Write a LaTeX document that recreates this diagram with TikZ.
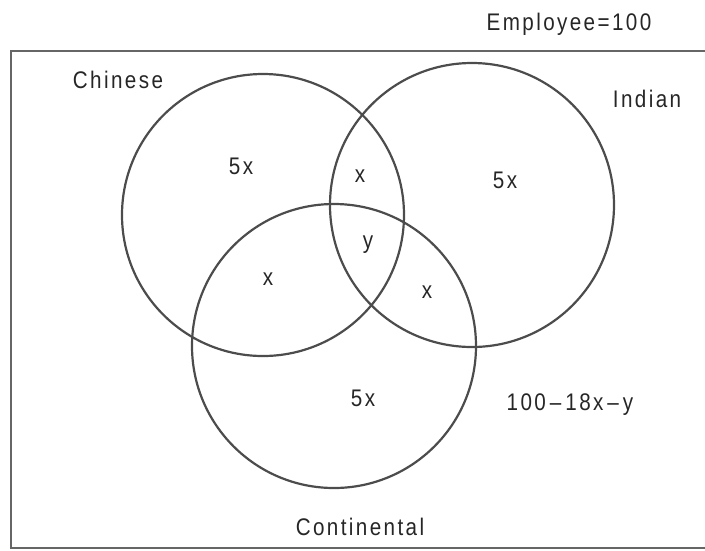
\documentclass[tikz,border=0pt]{standalone}
\usepackage{fontspec}
\setmainfont{Liberation Sans}[LetterSpace=10,FakeStretch=0.86]
\begin{document}
\begin{tikzpicture}[x=1pt,y=-1pt,
  ring/.style={draw=black!70,line width=2.2pt},
  lbl/.style={font=\fontsize{24}{27}\selectfont,text=black!85,inner sep=0pt}]
\useasboundingbox (0,0) rectangle (705,550);
\begin{scope}
\clip (0,0) rectangle (705,550);
\draw[black!60,line width=2.2pt] (740,51) -- (11,51) -- (11,548) -- (740,548);
\end{scope}
\node[ring,circle,minimum size=282pt,inner sep=0pt] (chi) at (263,215) {};
\node[ring,circle,minimum size=284pt,inner sep=0pt] (ind) at (472,205) {};
\node[ring,circle,minimum size=284pt,inner sep=0pt] (con) at (334,346) {};
\node[lbl] (emp) at (569,24) {Employee=100};
\node[lbl] (tchi) at (118,80) {Chinese};
\node[lbl] (tind) at (647,99) {Indian};
\node[lbl] (tcon) at (360,527) {Continental};
\node[lbl] (a) at (241,166) {5x};
\node[lbl] (b) at (360,176) {x};
\node[lbl] (c) at (505,180) {5x};
\node[lbl] (d) at (368,245) {y};
\node[lbl] (e) at (268,279) {x};
\node[lbl] (f) at (427,292) {x};
\node[lbl] (g) at (363,398) {5x};
\node[lbl] (h) at (570,405) {100\,--\,18x\,--\,y};
\end{tikzpicture}
\end{document}
